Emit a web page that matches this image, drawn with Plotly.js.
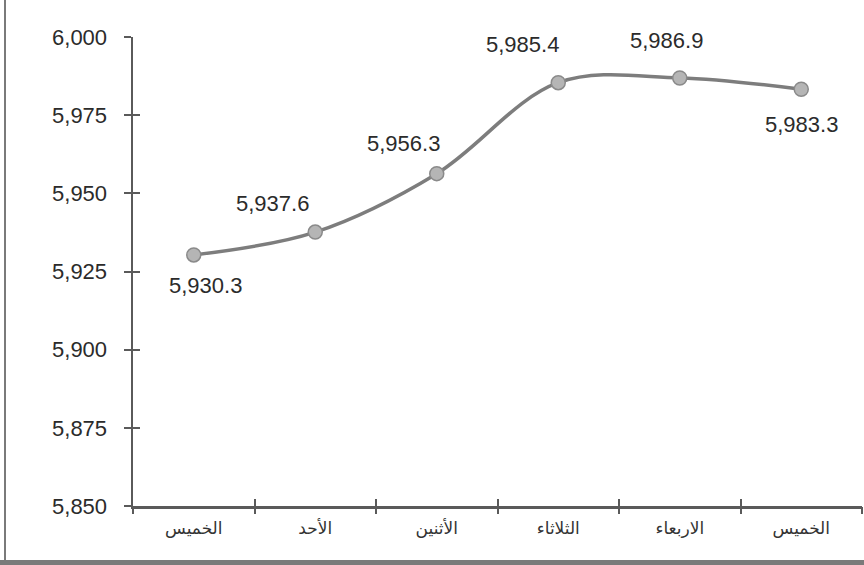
<!DOCTYPE html>
<html>
<head>
<meta charset="utf-8">
<script src="https://cdn.plot.ly/plotly-3.0.1.min.js"></script>
<style>html,body{margin:0;padding:0;background:#fff;}#chart{width:864px;height:565px;}</style>
</head>
<body>
<div id="chart"></div>
<script>
// Data
const categories = ['الخميس', 'الأحد', 'الأثنين', 'الثلاثاء', 'الاربعاء', 'الخميس'];
const values = [5930.3, 5937.6, 5956.3, 5985.4, 5986.9, 5983.3];
const yTickValues = [5850, 5875, 5900, 5925, 5950, 5975, 6000];

// Label offsets (pixels) relative to each point
const labelShiftX = [12, -43, -33, -36, -13, 0];
const labelShiftY = [-31, 29, 30, 38, 37, -35];

const W = 864, H = 565;
const M = {l: 133, r: 2, t: 37, b: 59};
const pw = W - M.l - M.r, ph = H - M.t - M.b;
const px2x = px => (px - M.l) / pw;
const py2y = py => (H - M.b - py) / ph;

const xIdx = categories.map((_, i) => i);
const bounds = [];
for (let i = 0; i <= categories.length; i++) bounds.push(i - 0.5);
const xr = [-0.5, categories.length - 0.5];
const yr = [5850, 6000];

const numFont = {family: 'Liberation Sans, Arial, sans-serif', size: 22, color: '#2b2b2b'};
const fmt = v => v.toLocaleString('en-US', {minimumFractionDigits: 1, maximumFractionDigits: 1});

const trace = {
  x: xIdx, y: values, type: 'scatter', mode: 'lines+markers',
  line: {color: '#7d7d7d', width: 3.5, shape: 'spline', smoothing: 1},
  marker: {size: 14, color: '#b5b5b5', line: {color: '#8a8a8a', width: 1.5}},
  hoverinfo: 'skip', cliponaxis: false
};
// invisible helper traces so the overlay tick axes are drawn
const helper = (xa, ya) => ({x: xIdx, y: values, xaxis: xa, yaxis: ya, type: 'scatter', mode: 'markers',
  marker: {opacity: 0, size: 1}, hoverinfo: 'skip', showlegend: false});

const annotations = values.map((v, i) => ({
  x: xIdx[i], y: v, xref: 'x', yref: 'y', text: fmt(v), showarrow: false,
  xshift: labelShiftX[i], yshift: labelShiftY[i], font: numFont,
  xanchor: 'center', yanchor: 'middle'
}));

const axColor = '#5a5a5a';
const tickAx = (extra) => Object.assign({range: xr, tickvals: bounds, ticklen: 7, tickwidth: 2, tickcolor: axColor,
  showticklabels: false, showgrid: false, zeroline: false, showline: false, fixedrange: true}, extra);
const layout = {
  width: W, height: H, margin: M,
  paper_bgcolor: '#ffffff', plot_bgcolor: '#ffffff',
  showlegend: false,
  xaxis: {
    range: xr, tickvals: xIdx, ticktext: categories, ticks: '',
    showline: true, linecolor: axColor, linewidth: 2.5, showgrid: false, zeroline: false,
    tickfont: {family: 'DejaVu Sans, sans-serif', size: 17, color: '#333'},
    ticklabelstandoff: 5, fixedrange: true
  },
  xaxis2: tickAx({overlaying: 'x', anchor: 'y', ticks: 'outside'}),
  xaxis3: tickAx({overlaying: 'x', anchor: 'y', ticks: 'inside'}),
  yaxis: {
    range: yr, tickvals: yTickValues, tickformat: ',', ticks: 'outside', ticklen: 7, tickwidth: 2, tickcolor: axColor,
    showline: true, linecolor: axColor, linewidth: 2.5, showgrid: false, zeroline: false,
    tickfont: {family: 'Liberation Sans, Arial, sans-serif', size: 22, color: '#2b2b2b'},
    ticklabelstandoff: 12, fixedrange: true
  },
  yaxis2: {
    overlaying: 'y', anchor: 'x', side: 'left', range: yr, tickvals: yTickValues, ticks: 'inside', ticklen: 7, tickwidth: 2,
    tickcolor: axColor, showticklabels: false, showgrid: false, zeroline: false, showline: false, fixedrange: true
  },
  annotations: annotations,
  shapes: [
    {type: 'line', xref: 'paper', yref: 'paper',
     x0: px2x(5), x1: px2x(5), y0: py2y(0), y1: py2y(565),
     line: {color: '#7a7a7a', width: 2}},
    {type: 'line', xref: 'paper', yref: 'paper',
     x0: px2x(0), x1: px2x(W), y0: py2y(562.5), y1: py2y(562.5),
     line: {color: '#7a7a7a', width: 5}}
  ]
};

Plotly.newPlot('chart', [trace, helper('x2', 'y'), helper('x3', 'y'), helper('x', 'y2')], layout,
  {displayModeBar: false, staticPlot: true});
</script>
</body>
</html>
